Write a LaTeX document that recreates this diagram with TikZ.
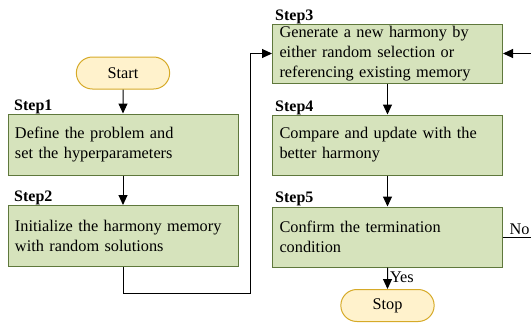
\documentclass[tikz,border=0pt]{standalone}
\usepackage{fontspec}
\setmainfont{Liberation Serif}
\usetikzlibrary{arrows.meta,shapes.misc}
\definecolor{boxfill}{RGB}{214,227,188}
\definecolor{boxline}{RGB}{95,120,60}
\definecolor{termfill}{RGB}{255,242,204}
\definecolor{termline}{RGB}{214,170,40}
\tikzset{
  stepbox/.style={draw=boxline, fill=boxfill, line width=1pt, minimum width=230pt, minimum height=61pt,
    text width=216pt, align=left, inner sep=0pt, font=\fontsize{16.3}{20}\selectfont},
  term/.style={draw=termline, fill=termfill, line width=1pt, rounded rectangle, minimum width=100pt,
    minimum height=32pt, font=\fontsize{16.3}{18}\selectfont},
  steplabel/.style={anchor=base west, inner sep=0pt, font=\fontsize{16}{18}\selectfont\bfseries},
  conn/.style={draw=black, line width=1pt, -{Triangle[length=10pt,width=9pt]}},
  plain/.style={draw=black, line width=1pt}
}
\begin{document}
\begin{tikzpicture}[x=1pt,y=-1pt]
\useasboundingbox (0,0) rectangle (531,325);
\node[term] (start) at (123,73) {Start};
\node[stepbox] (s1) at (123,144.5) {Define the problem and\\set the hyperparameters};
\node[stepbox] (s2) at (123,236) {Initialize the harmony memory\\with random solutions};
\node[stepbox, minimum height=59pt] (s3) at (387.5,53.5) {Generate a new harmony by\\either random selection or\\referencing existing memory};
\node[stepbox, minimum height=60pt] (s4) at (387.5,145) {Compare and update with the\\better harmony};
\node[stepbox, minimum height=60pt] (s5) at (387.5,237) {Confirm the termination\\condition};
\node[term] (stop) at (387.5,305.5) {Stop};
\node[steplabel] (l1) at (14,110) {Step1};
\node[steplabel] (l2) at (14,201) {Step2};
\node[steplabel] (l3) at (275,20) {Step3};
\node[steplabel] (l4) at (275,111) {Step4};
\node[steplabel] (l5) at (275,202) {Step5};
\coordinate (c1) at (123,293);
\coordinate (c2) at (250,293);
\coordinate (c3) at (250,53.5);
\coordinate (r1) at (531,53.5);
\coordinate (r2) at (531,237);
\draw[conn] (start) -- (s1);
\draw[conn] (s1) -- (s2);
\draw[plain] (s2.south) -- (c1) -- (c2) -- (c3);
\draw[conn] (c3) -- (s3.west);
\draw[conn] (r1) -- (s3.east);
\draw[conn] (s3) -- (s4);
\draw[conn] (s4) -- (s5);
\draw[conn] (s5) -- node[right, pos=0.45, inner sep=2pt, font=\fontsize{16.3}{18}\selectfont] (yes) {Yes} (stop);
\draw[plain] (s5.east) -- node[above, pos=0.59, inner sep=1.5pt, font=\fontsize{16.3}{18}\selectfont] (no) {No} (r2);
\end{tikzpicture}
\end{document}
